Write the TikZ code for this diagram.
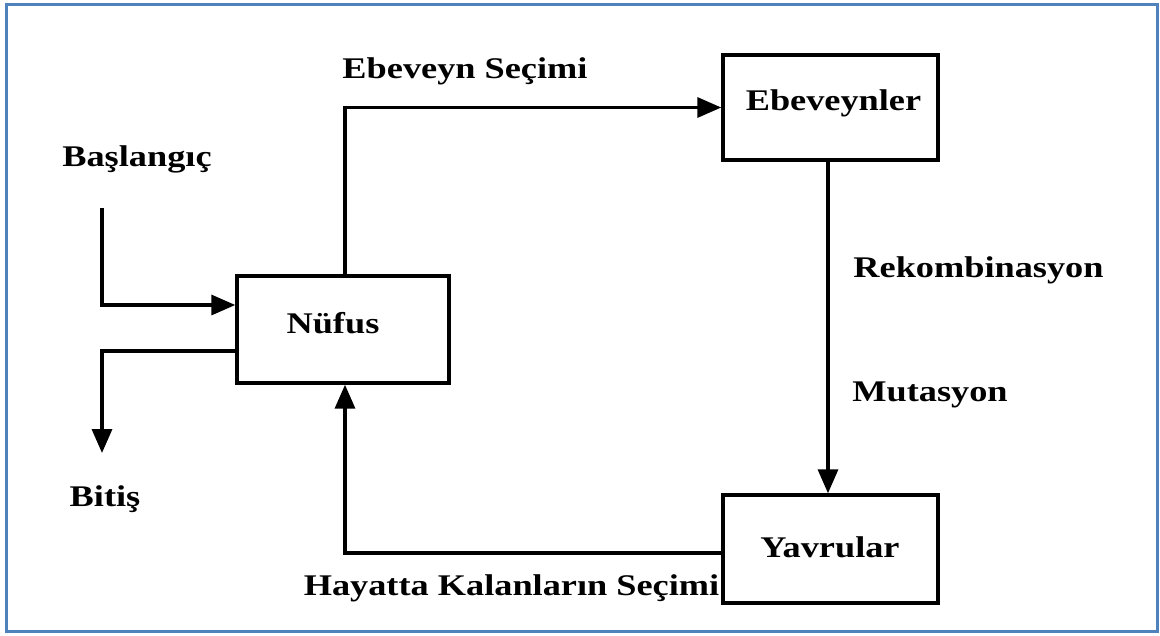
\documentclass[tikz,border=0pt]{standalone}
\usepackage{fontspec}
\setmainfont{Liberation Serif}
\usetikzlibrary{arrows.meta}
\definecolor{framecol}{RGB}{79,129,189}
% wide bold lettering
\newcommand{\widebf}[1]{\scalebox{1.21}[1]{#1}}
\begin{document}
\begin{tikzpicture}[x=1pt,y=-1pt,
  box/.style={draw,line width=3.4pt,minimum width=#1,inner sep=0pt},
  txt/.style={anchor=base,inner sep=0pt,font=\fontsize{30}{33}\selectfont\bfseries},
  conn/.style={line width=3.4pt,-{Triangle[length=24pt,width=20pt]}}]
\useasboundingbox (0,0) rectangle (1160,635);
% outer frame
\draw[framecol,line width=2.8pt] (6.3,4.3) rectangle (1157.2,631.5);

% boxes
\node[box=212pt,minimum height=107pt] (nufus) at (343,329.5) {};
\node[box=215pt,minimum height=105pt] (ebev) at (830.5,107.5) {};
\node[box=215pt,minimum height=108pt] (yav) at (830.5,549) {};

% box captions
\node[txt] (tnufus) at (333,333) {\widebf{Nüfus}};
\node[txt] (tebev) at (833.5,110) {\widebf{Ebeveynler}};
\node[txt] (tyav) at (830,557) {\widebf{Yavrular}};

% free ends of the start and stop lines
\coordinate (bstart) at (102,208);
\coordinate (bend) at (102,453);

% connectors
\draw[conn] (bstart) |- ([yshift=24.5pt]nufus.west);
\draw[conn] ([yshift=-21.5pt]nufus.west) -| (bend);
\draw[conn] ([xshift=2pt]nufus.north) |- (ebev.west);
\draw[conn] ([xshift=-2.5pt]ebev.south) -- ([xshift=-2.5pt]yav.north);
\draw[conn] ([yshift=-4pt]yav.west) -| ([xshift=2pt]nufus.south);

% connector labels
\node[txt] (lbas) at (137,166) {\widebf{Başlangıç}};
\node[txt] (lbit) at (105,506) {\widebf{Bitiş}};
\node[txt] (lsec) at (465,78) {\widebf{Ebeveyn Seçimi}};
\node[txt] (lrek) at (978.5,277) {\widebf{Rekombinasyon}};
\node[txt] (lmut) at (930,401) {\widebf{Mutasyon}};
\node[txt] (lhay) at (511.5,595) {\widebf{Hayatta Kalanların Seçimi}};
\end{tikzpicture}
\end{document}
